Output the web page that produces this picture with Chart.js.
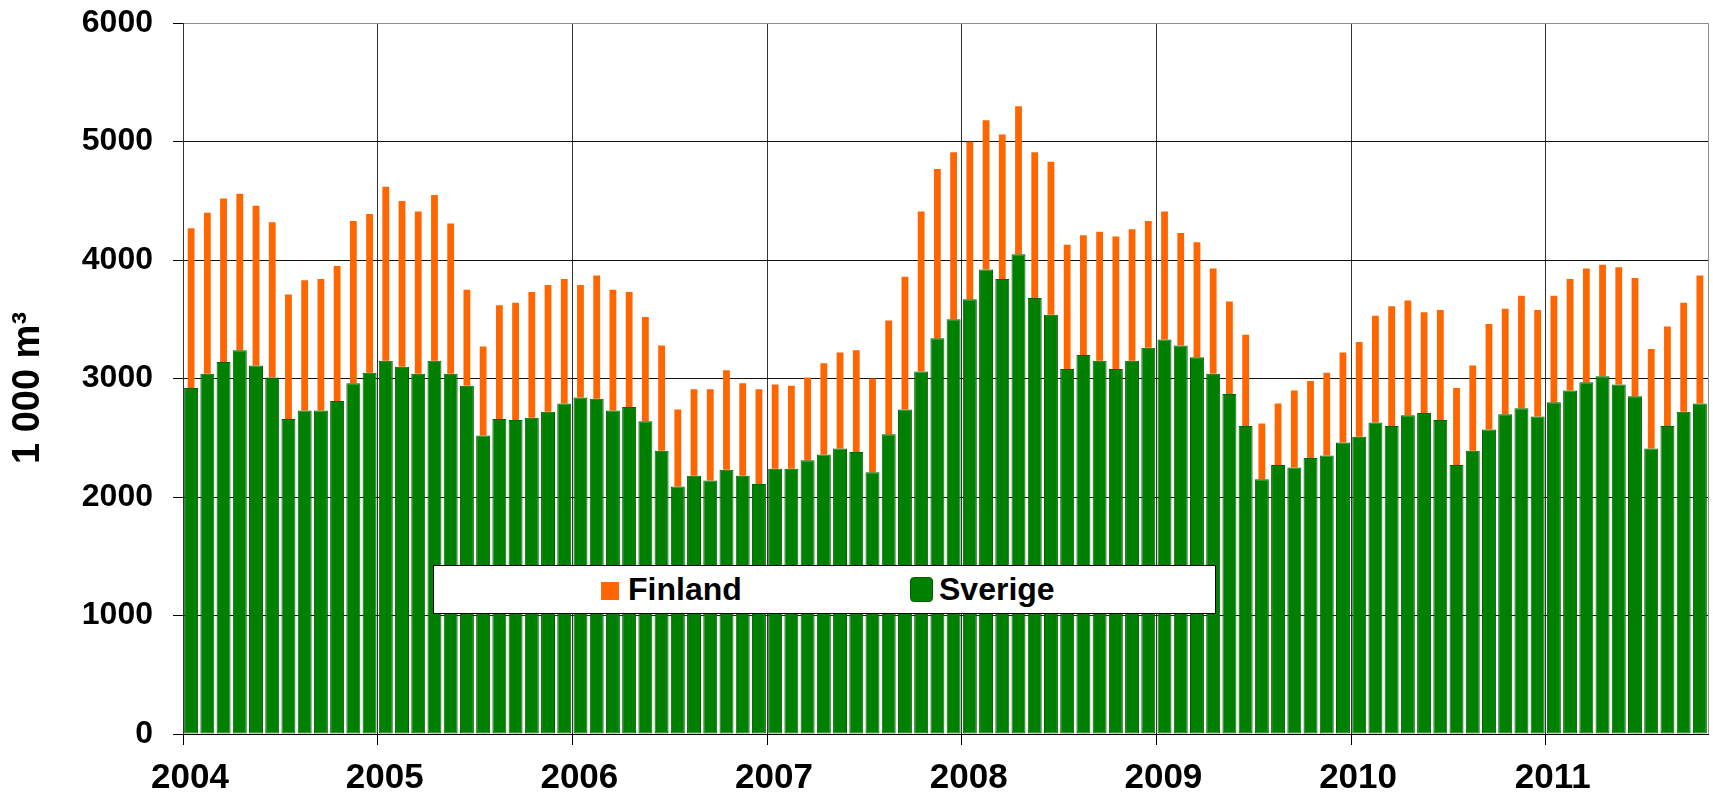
<!DOCTYPE html>
<html>
<head>
<meta charset="utf-8">
<script src="https://cdn.jsdelivr.net/npm/chart.js@4"></script>
<style>
    html, body { margin: 0; padding: 0; background: #fff; }
    #wrap { position: relative; width: 1713px; height: 795px; }
    #legend {
        position: absolute; left: 433px; top: 565px; width: 781px; height: 47px;
        background: #fff; border: 1px solid #000;
        font: bold 32px "Liberation Sans", Arial, sans-serif; color: #000;
    }
    #legend span { position: absolute; line-height: 47px; top: 0; }
    .mark { position: absolute; }
</style>
</head>
<body>
<div id="wrap">
    <canvas id="chart" width="1713" height="795"></canvas>
    <div id="legend">
        <div class="mark" style="left:167px;top:16px;width:18px;height:18px;background:#ff6600;"></div>
        <span style="left:194px;">Finland</span>
        <div class="mark" style="left:476px;top:11px;width:21px;height:23px;background:#008000;border:1px solid #006000;border-radius:4px;"></div>
        <span style="left:505px;">Sverige</span>
    </div>
</div>
<script>
// year tick labels (one every 12 months, starting Jan 2004)
const yearLabels = ['2004', '2005', '2006', '2007', '2008', '2009', '2010', '2011'];
const yTicks = [0, 1000, 2000, 3000, 4000, 5000, 6000];

// monthly values, 1 000 m3, Jan 2004 - Oct 2011
const sverige = [
    2920, 3040, 3140, 3240, 3110, 3010, 2660, 2730, 2730, 2810, 2960, 3050, // 2004
    3150, 3100, 3040, 3150, 3040, 2940, 2520, 2660, 2650, 2670, 2720, 2790, // 2005
    2840, 2830, 2730, 2760, 2640, 2390, 2090, 2180, 2140, 2230, 2180, 2110, // 2006
    2240, 2240, 2310, 2360, 2410, 2380, 2210, 2530, 2740, 3060, 3340, 3500, // 2007
    3670, 3920, 3840, 4050, 3680, 3540, 3080, 3200, 3150, 3080, 3150, 3260, // 2008
    3330, 3280, 3180, 3040, 2870, 2600, 2150, 2270, 2250, 2330, 2350, 2460, // 2009
    2510, 2630, 2600, 2690, 2710, 2650, 2270, 2390, 2570, 2700, 2750, 2680, // 2010
    2800, 2900, 2970, 3020, 2950, 2850, 2410, 2600, 2720, 2790              // 2011
];
const finland = [
    1350, 1360, 1380, 1320, 1350, 1310, 1050, 1100, 1110, 1140, 1370, 1340,
    1470, 1400, 1370, 1400, 1270, 810, 750, 960, 990, 1060, 1070, 1050,
    950, 1040, 1020, 970, 880, 890, 650, 730, 770, 840, 780, 800,
    710, 700, 700, 770, 810, 860, 790, 960, 1120, 1350, 1430, 1410,
    1330, 1260, 1220, 1250, 1230, 1290, 1050, 1010, 1090, 1120, 1110, 1070,
    1080, 950, 970, 890, 780, 770, 470, 520, 650, 650, 700, 760,
    800, 900, 1010, 970, 850, 930, 650, 720, 890, 890, 950, 900,
    900, 940, 960, 940, 990, 1000, 840, 840, 920, 1080
];

const FONT = '"Liberation Sans", Arial, sans-serif';
const nMonths = sverige.length;

// rotated y axis title
const axisTitle = {
    id: 'axisTitle',
    afterDraw(chart) {
        const c = chart.ctx;
        c.save();
        c.translate(29, 388);
        c.rotate(-Math.PI / 2);
        c.font = 'bold 38px ' + FONT;
        c.fillStyle = '#000';
        c.textAlign = 'center';
        c.textBaseline = 'middle';
        c.fillText('1 000 m\u00B3', 0, 0);
        c.restore();
    }
};

const ctx = document.getElementById('chart').getContext('2d');
new Chart(ctx, {
    type: 'bar',
    data: {
        datasets: [{
            label: 'Sverige',
            data: sverige.map((v, i) => ({ x: i + 0.5, y: v })),
            backgroundColor: '#008000',
            borderColor: '#006000',
            borderWidth: 1,
            borderRadius: 3,
            borderSkipped: false,
            barPercentage: 0.86,
            categoryPercentage: 1
        }, {
            label: 'Finland',
            data: finland.map((v, i) => ({ x: i + 0.5, y: v })),
            backgroundColor: '#ff6600',
            borderWidth: 0,
            barPercentage: 0.42,
            categoryPercentage: 1
        }]
    },
    options: {
        responsive: false,
        animation: false,
        layout: { padding: { left: 0, right: 5, top: 8, bottom: 0 } },
        plugins: { legend: { display: false }, tooltip: { enabled: false } },
        scales: {
            x: {
                type: 'linear',
                min: 0,
                max: nMonths,
                offset: false,
                stacked: true,
                grid: {
                    offset: false,
                    tickLength: 11,
                    color: c => (c.tick && c.tick.value === nMonths) ? '#909090' : '#333',
                    tickColor: c => (c.tick && c.tick.value === nMonths) ? 'rgba(0,0,0,0)' : '#000'
                },
                border: { color: '#000' },
                ticks: {
                    stepSize: 12,
                    autoSkip: false,
                    maxRotation: 0,
                    labelOffset: 7,
                    padding: 4,
                    color: '#000',
                    font: { family: FONT, size: 35, weight: 'bold', lineHeight: 1.7 },
                    callback: v => (v % 12 === 0 ? yearLabels[v / 12] : '')
                },
                afterFit: s => { s.height = 61; }
            },
            y: {
                min: 0,
                max: 6000,
                stacked: true,
                grid: {
                    tickLength: 10,
                    color: c => (c.tick && c.tick.value === 6000) ? '#909090' : '#111',
                    tickColor: '#000'
                },
                border: { color: '#333' },
                afterBuildTicks: s => { s.ticks = yTicks.map(v => ({ value: v })); },
                ticks: {
                    padding: 20,
                    color: '#000',
                    font: { family: FONT, size: 32, weight: 'bold', lineHeight: 0.2 },
                    callback: v => String(v)
                },
                afterFit: s => { s.width = 183; }
            }
        }
    },
    plugins: [axisTitle]
});
</script>
</body>
</html>
